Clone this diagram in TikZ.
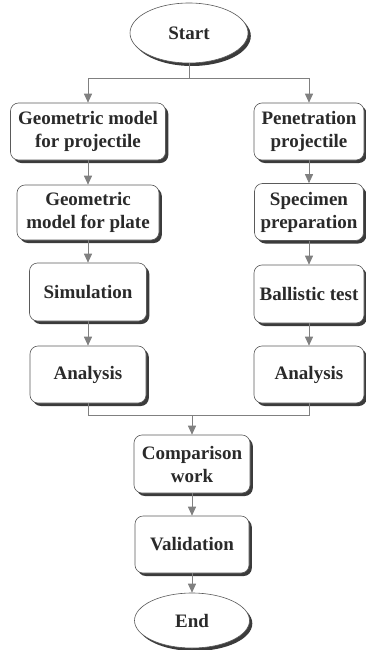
\documentclass[tikz,border=0pt]{standalone}
\usepackage{fontspec}
\setmainfont{Liberation Serif}[BoldFont={Liberation Serif Bold}]
\usetikzlibrary{shapes.geometric,shadows,arrows.meta}
\definecolor{boxline}{HTML}{5A5A5A}
\definecolor{txt}{HTML}{2A2A2A}
\definecolor{arrowc}{HTML}{808080}
\begin{document}
\begin{tikzpicture}[x=1pt,y=-1pt,
  shad/.style={drop shadow={shadow xshift=2.8pt,shadow yshift=-3pt,fill=black!85,opacity=0.9}},
  box/.style={draw=boxline,fill=white,rounded corners=8pt,line width=0.6pt,
    font=\bfseries\fontsize{19}{23}\selectfont,text=txt,align=center,inner sep=0pt,shad},
  oval/.style={ellipse,draw=boxline,fill=white,line width=0.6pt,
    font=\bfseries\fontsize{19}{23}\selectfont,text=txt,inner sep=0pt,shad},
  conn/.style={draw=arrowc,line width=0.9pt},
  arr/.style={conn,-{Triangle[length=9pt,width=8pt]}}]
\useasboundingbox (0,0) rectangle (365,650);
\node[oval,minimum width=118pt,minimum height=60pt] (start) at (189,33) {Start};
\node[box,minimum width=155pt,minimum height=57pt] (L1) at (88,131.5) {Geometric model\\for projectile};
\node[box,minimum width=142pt,minimum height=55pt] (L2) at (88,212.5) {Geometric\\model for plate};
\node[box,minimum width=117pt,minimum height=58pt] (L3) at (88,292) {Simulation};
\node[box,minimum width=116pt,minimum height=57pt] (L4) at (88,374.5) {Analysis};
\node[box,minimum width=110pt,minimum height=57pt] (R1) at (309,131.5) {Penetration\\projectile};
\node[box,minimum width=109pt,minimum height=57pt] (R2) at (309,212) {Specimen\\preparation};
\node[box,minimum width=110pt,minimum height=58pt] (R3) at (309,294) {Ballistic test};
\node[box,minimum width=110pt,minimum height=57pt] (R4) at (309,374.5) {Analysis};
\node[box,minimum width=116pt,minimum height=58pt] (C) at (192,464) {Comparison\\work};
\node[box,minimum width=114pt,minimum height=57pt] (V) at (192,544.5) {Validation};
\node[oval,minimum width=115pt,minimum height=55pt] (E) at (192,620.5) {End};
\coordinate (split) at (189,78);
\coordinate (merge) at (192,415);
\draw[conn] (start.south) -- (split);
\draw[arr] (split) -| (L1.north);
\draw[arr] (split) -| (R1.north);
\draw[arr] (L1) -- (L2);
\draw[arr] (L2) -- (L3);
\draw[arr] (L3) -- (L4);
\draw[arr] (R1) -- (R2);
\draw[arr] (R2) -- (R3);
\draw[arr] (R3) -- (R4);
\draw[conn] (L4.south) |- (merge);
\draw[conn] (R4.south) |- (merge);
\draw[arr] (merge) -- (C.north);
\draw[arr] (C) -- (V);
\draw[arr] (V) -- (E);
\end{tikzpicture}
\end{document}
